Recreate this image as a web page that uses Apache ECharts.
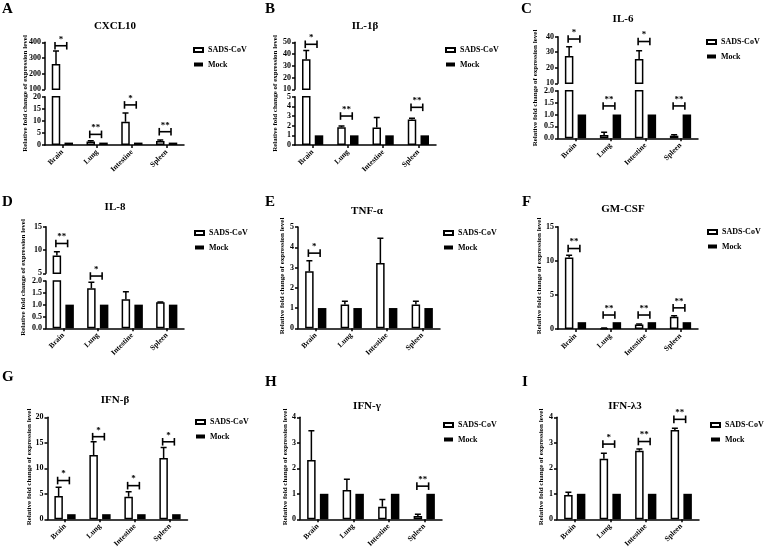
<!DOCTYPE html>
<html><head><meta charset="utf-8">
<script src="https://cdn.jsdelivr.net/npm/echarts@6/dist/echarts.min.js"></script>
<style>html,body{margin:0;padding:0;background:#fff}#c{width:766px;height:550px}</style>
</head><body><div id="c"></div>
<script>
// ---------------- data ----------------
const categories = ['Brain', 'Lung', 'Intestine', 'Spleen'];
const groupNames = ['SADS-CoV', 'Mock'];
const panelLetters = ['A', 'B', 'C', 'D', 'E', 'F', 'G', 'H', 'I'];
const panelTitles = ['CXCL10', 'IL-1β', 'IL-6', 'IL-8', 'TNF-α', 'GM-CSF', 'IFN-β', 'IFN-γ', 'IFN-λ3'];
const yAxisTitle = 'Relative fold change of expression level';

const sadsMean = [
  [262, 1.4, 9.6, 1.7],
  [35.5, 1.85, 1.8, 2.65],
  [27.6, 0.14, 25.7, 0.11],
  [8.8, 1.69, 1.23, 1.1],
  [2.81, 1.18, 3.22, 1.18],
  [10.5, 0.1, 0.65, 1.8],
  [4.57, 12.6, 4.43, 12.0],
  [2.33, 1.15, 0.49, 0.13],
  [0.95, 2.37, 2.69, 3.5]
];
const sadsErrTop = [
  [344, 1.8, 13.2, 2.1],
  [43, 1.97, 2.85, 2.78],
  [33.5, 0.25, 30.9, 0.15],
  [9.65, 1.95, 1.55, 1.11],
  [3.33, 1.34, 4.45, 1.34],
  [10.8, 0.13, 0.75, 1.95],
  [6.27, 15.2, 5.4, 14.1],
  [3.47, 1.57, 0.78, 0.2],
  [1.06, 2.59, 2.76, 3.57]
];
const mockMean = [
  [1, 1, 1, 1], [1, 1, 1, 1], [1, 1, 1, 1],
  [1, 1, 1, 1], [1, 1, 1, 1], [1, 1, 1, 1],
  [1, 1, 1, 1], [1, 1, 1, 1], [1, 1, 1, 1]
];
// significance brackets: category index, bracket height (data units), mark
const sigCats = [[0, 1, 2, 3], [0, 1, 3], [0, 1, 2, 3], [0, 1], [0], [0, 1, 2, 3], [0, 1, 2, 3], [3], [1, 2, 3]];
const sigHeights = [[378, 4.4, 16.6, 5.5], [48.3, 3.0, 3.9], [38.5, 1.36, 36.9, 1.36], [11.4, 2.21], [3.71],
  [11.8, 2.05, 2.05, 3.1], [7.6, 16.2, 6.6, 15.2], [1.3], [2.95, 3.05, 3.92]];
const sigMarks = [['*', '**', '*', '**'], ['*', '**', '**'], ['*', '**', '*', '**'], ['**', '*'], ['*'],
  ['**', '**', '**', '**'], ['*', '*', '*', '*'], ['**'], ['*', '**', '**']];
// axis ranges [min, max, interval]; upper segment exists only for broken axes
const lowerAxis = [[0, 20, 5], [0, 5, 1], [0, 2, 0.5], [0, 2, 0.5], [0, 5, 1], [0, 15, 5], [0, 20, 5], [0, 4, 1], [0, 4, 1]];
const upperAxis = [[100, 400, 100], [10, 50, 10], [10, 40, 10], [5, 15, 5], null, null, null, null, null];
const oneDecimalAxis = [false, false, true, true, false, false, false, false, false];

// ---------------- layout ----------------
const plotLeft = [45, 295, 558, 46, 298, 558, 47.5, 300, 557];
const plotWidth = [139, 141, 140, 138, 142, 140, 140, 142, 142];
const upperBox = [[42.3, 47], [42.3, 47], [36.7, 46.6], [226.7, 46.6], null, null, null, null, null];
const lowerBox = [[96.7, 48.3], [96.7, 48.3], [90.7, 47.6], [281, 47.3], [227, 101.3], [226.7, 102.3],
  [417.3, 102], [417.3, 102], [417.3, 102]];
const legendPos = [[193, 46], [445, 46], [706, 38], [194, 229], [443, 229], [707, 228], [195, 418], [443, 421], [710, 421]];
const titlePos = [[115, 21], [365, 21], [623, 14], [115, 202], [367, 206], [623, 204], [115, 395], [367, 401], [625, 401]];
const letterPos = [[2, 2], [265, 2], [521, 2], [2, 195], [265, 195], [522, 195], [2, 370], [265, 375], [522, 375]];
const yTitlePos = [[25, 93.5], [275.5, 93.5], [535, 88], [23, 277.5], [282, 276], [539, 276], [28.7, 467], [285, 467], [541, 467]];

const FONT = "'Liberation Serif','Times New Roman',serif";
const BAR_W = 8.5;
const BAR_GAP = '50%';
const LINE = 1.5;

function barOffsets(api) {
  if (api.barLayout) {
    const l = api.barLayout({ count: 2, barWidth: BAR_W, barGap: BAR_GAP });
    if (l && l.length === 2) return [l[0].offsetCenter, l[1].offsetCenter];
  }
  const g = BAR_W * 0.5;
  return [-(BAR_W + g) / 2, (BAR_W + g) / 2];
}

function renderErr(params, api) {
  const cat = api.value(0), m = api.value(1), t = api.value(2);
  const off = barOffsets(api);
  const p0 = api.coord([cat, m]);
  const p1 = api.coord([cat, t]);
  const x = p0[0] + off[0];
  const st = { stroke: '#000', lineWidth: LINE };
  return {
    type: 'group', children: [
      { type: 'line', shape: { x1: x, y1: p0[1], x2: x, y2: p1[1] }, style: st },
      { type: 'line', shape: { x1: x - 3, y1: p1[1], x2: x + 3, y2: p1[1] }, style: st }
    ]
  };
}

function makeSigRenderer(labels) {
  return function (params, api) {
    const cat = api.value(0), h = api.value(1);
    const off = barOffsets(api);
    const c = api.coord([cat, h]);
    const x1 = c[0] + off[0] - 1, x2 = c[0] + off[1] - 2, y = c[1];
    const st = { stroke: '#000', lineWidth: 1.6 };
    return {
      type: 'group', children: [
        { type: 'line', shape: { x1: x1, y1: y, x2: x2, y2: y }, style: st },
        { type: 'line', shape: { x1: x1, y1: y - 3.8, x2: x1, y2: y + 3.8 }, style: st },
        { type: 'line', shape: { x1: x2, y1: y - 3.8, x2: x2, y2: y + 3.8 }, style: st },
        { type: 'text', x: (x1 + x2) / 2, y: y - 2,
          style: { text: labels[params.dataIndex], font: 'bold 9px ' + FONT, fill: '#000', align: 'center', verticalAlign: 'bottom' } }
      ]
    };
  };
}

const grids = [], xAxes = [], yAxes = [], series = [];

function addGrid(p, box, range, isUpper) {
  const gi = grids.length;
  grids.push({ left: plotLeft[p], top: box[0], width: plotWidth[p], height: box[1] });
  xAxes.push({
    type: 'category', gridIndex: gi, data: categories, show: !isUpper,
    axisLine: { lineStyle: { color: '#000', width: LINE } },
    axisTick: { show: true, alignWithLabel: true, length: 3, lineStyle: { color: '#000', width: LINE } },
    axisLabel: { rotate: 45, interval: 0, margin: 6, color: '#000', fontSize: 7.5, fontWeight: 'bold', fontFamily: FONT },
    splitLine: { show: false }
  });
  yAxes.push({
    type: 'value', gridIndex: gi, min: range[0], max: range[1], interval: range[2],
    axisLine: { show: true, lineStyle: { color: '#000', width: LINE } },
    axisTick: { show: true, length: 3, lineStyle: { color: '#000', width: LINE } },
    axisLabel: {
      margin: 4, color: '#000', fontSize: 8, fontWeight: 'bold', fontFamily: FONT,
      formatter: (oneDecimalAxis[p] && !isUpper) ? (v => v.toFixed(1)) : (v => String(v))
    },
    splitLine: { show: false }
  });
  series.push({
    type: 'bar', name: groupNames[0], xAxisIndex: gi, yAxisIndex: gi, data: sadsMean[p],
    barWidth: BAR_W, barGap: BAR_GAP, clip: true,
    itemStyle: { color: '#fff', borderColor: '#000', borderWidth: LINE }
  });
  series.push({
    type: 'bar', name: groupNames[1], xAxisIndex: gi, yAxisIndex: gi, data: mockMean[p],
    barWidth: BAR_W, barGap: BAR_GAP, clip: true,
    itemStyle: { color: '#000' }
  });
  series.push({
    type: 'custom', name: 'err' + gi, xAxisIndex: gi, yAxisIndex: gi, clip: true, z: 3,
    data: sadsMean[p].map((m, i) => [i, m, sadsErrTop[p][i]]),
    renderItem: renderErr
  });
  return gi;
}

function addSig(gi, items) {
  if (!items.length) return;
  series.push({
    type: 'custom', name: 'sig' + gi, xAxisIndex: gi, yAxisIndex: gi, clip: false, z: 4,
    data: items.map(it => [it[0], it[1]]),
    renderItem: makeSigRenderer(items.map(it => it[2]))
  });
}

for (let p = 0; p < 9; p++) {
  const items = sigCats[p].map((c, k) => [c, sigHeights[p][k], sigMarks[p][k]]);
  const lowerGi = addGrid(p, lowerBox[p], lowerAxis[p], false);
  if (upperAxis[p]) {
    const upperGi = addGrid(p, upperBox[p], upperAxis[p], true);
    addSig(upperGi, items.filter(it => it[1] >= upperAxis[p][0]));
    addSig(lowerGi, items.filter(it => it[1] < upperAxis[p][0]));
  } else {
    addSig(lowerGi, items);
  }
}

const legends = legendPos.map(pos => ({
  data: groupNames, orient: 'vertical', left: pos[0], top: pos[1], padding: 0,
  itemWidth: 9, itemHeight: 4, itemGap: 6.5, icon: 'rect', selectedMode: false,
  textStyle: { fontSize: 8, fontWeight: 'bold', fontFamily: FONT, color: '#000' }
}));

const titles = panelTitles.map((t, i) => ({
  text: t, left: titlePos[i][0], top: titlePos[i][1], textAlign: 'center', padding: 0,
  textStyle: { fontSize: 11, fontWeight: 'bold', fontFamily: FONT, color: '#000' }
}));

const graphics = [];
panelLetters.forEach((l, i) => {
  graphics.push({ type: 'text', x: letterPos[i][0], y: letterPos[i][1],
    style: { text: l, font: 'bold 15px ' + FONT, fill: '#000', align: 'left', verticalAlign: 'top' } });
});
yTitlePos.forEach(pos => {
  graphics.push({ type: 'text', x: pos[0], y: pos[1], rotation: Math.PI / 2,
    style: { text: yAxisTitle, font: 'bold 7px ' + FONT, fill: '#000', align: 'center', verticalAlign: 'middle' } });
});

const chart = echarts.init(document.getElementById('c'), null, { renderer: 'canvas' });
chart.setOption({
  animation: false,
  backgroundColor: '#fff',
  title: titles,
  legend: legends,
  grid: grids,
  xAxis: xAxes,
  yAxis: yAxes,
  series: series,
  graphic: graphics
});
</script>
</body></html>
